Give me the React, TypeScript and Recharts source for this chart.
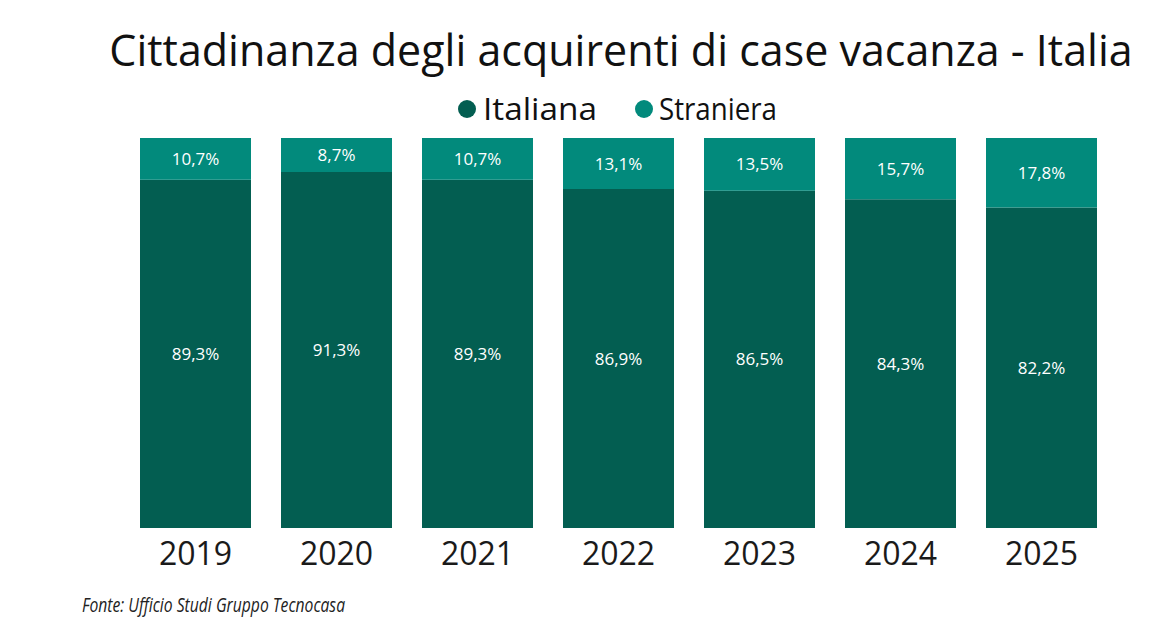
import React from 'react';
import { BarChart, Bar, XAxis, YAxis, LabelList } from 'recharts';

const years = ['2019', '2020', '2021', '2022', '2023', '2024', '2025'];
const italiana = [89.3, 91.3, 89.3, 86.9, 86.5, 84.3, 82.2];
const straniera = [10.7, 8.7, 10.7, 13.1, 13.5, 15.7, 17.8];

const seriesNames = ['Italiana', 'Straniera'];
const seriesColors = ['#035E51', '#028A7C'];

const FONT = '"Open Sans", "Noto Sans", sans-serif';

const data = years.map((y, i) => ({ year: y, italiana: italiana[i], straniera: straniera[i] }));

const fmt = (v: any) => Number(v).toFixed(1).replace('.', ',') + '%';

const App: React.FC = () => {
    return (
        <div style={{ position: 'relative', width: 1170, height: 639, background: '#fff', fontFamily: FONT, overflow: 'hidden' }}>
            <style>{'body{margin:0;}'}</style>
            <BarChart
                width={1170}
                height={639}
                data={data}
                margin={{ top: 138, right: 58, left: 125, bottom: 71 }}
                barCategoryGap={15}
            >
                <XAxis
                    dataKey="year"
                    height={40}
                    axisLine={false}
                    tickLine={false}
                    tickMargin={8}
                    tick={{ fontSize: 32, fill: '#1a1a1a', fontFamily: FONT }}
                    interval={0}
                />
                <YAxis hide domain={[0, 100]} />
                <Bar dataKey="italiana" stackId="a" fill={seriesColors[0]} name={seriesNames[0]} isAnimationActive={false}>
                    <LabelList dataKey="italiana" position="center" formatter={fmt} fill="#fff" fontSize={17} fontFamily={FONT} />
                </Bar>
                <Bar dataKey="straniera" stackId="a" fill={seriesColors[1]} name={seriesNames[1]} isAnimationActive={false}>
                    <LabelList dataKey="straniera" position="center" formatter={fmt} fill="#fff" fontSize={17} fontFamily={FONT} />
                </Bar>
            </BarChart>

            {/* title + legend */}
            <svg width={1170} height={130} style={{ position: 'absolute', left: 0, top: 0, pointerEvents: 'none' }}>
                <text
                    x={621}
                    y={66}
                    fontSize={43}
                    fontFamily={FONT}
                    fill="#111"
                    textAnchor="middle"
                    transform="translate(0 -2.6) scale(1 1.04)"
                >
                    Cittadinanza degli acquirenti di case vacanza - Italia
                </text>
                <circle cx={467} cy={109} r={9} fill={seriesColors[0]} />
                <text x={483} y={120} fontSize={31} fontFamily={FONT} fill="#111" textLength={114} lengthAdjust="spacingAndGlyphs">
                    {seriesNames[0]}
                </text>
                <circle cx={644} cy={109} r={9} fill={seriesColors[1]} />
                <text x={659} y={120} fontSize={31} fontFamily={FONT} fill="#111" textLength={118} lengthAdjust="spacingAndGlyphs">
                    {seriesNames[1]}
                </text>
            </svg>

            {/* source */}
            <svg width={1170} height={45} style={{ position: 'absolute', left: 0, top: 585, pointerEvents: 'none' }}>
                <text x={82} y={27} fontSize={20} fontStyle="italic" fontFamily={FONT} fill="#222" textLength={263} lengthAdjust="spacingAndGlyphs">
                    Fonte: Ufficio Studi Gruppo Tecnocasa
                </text>
            </svg>
        </div>
    );
};

export default App;
